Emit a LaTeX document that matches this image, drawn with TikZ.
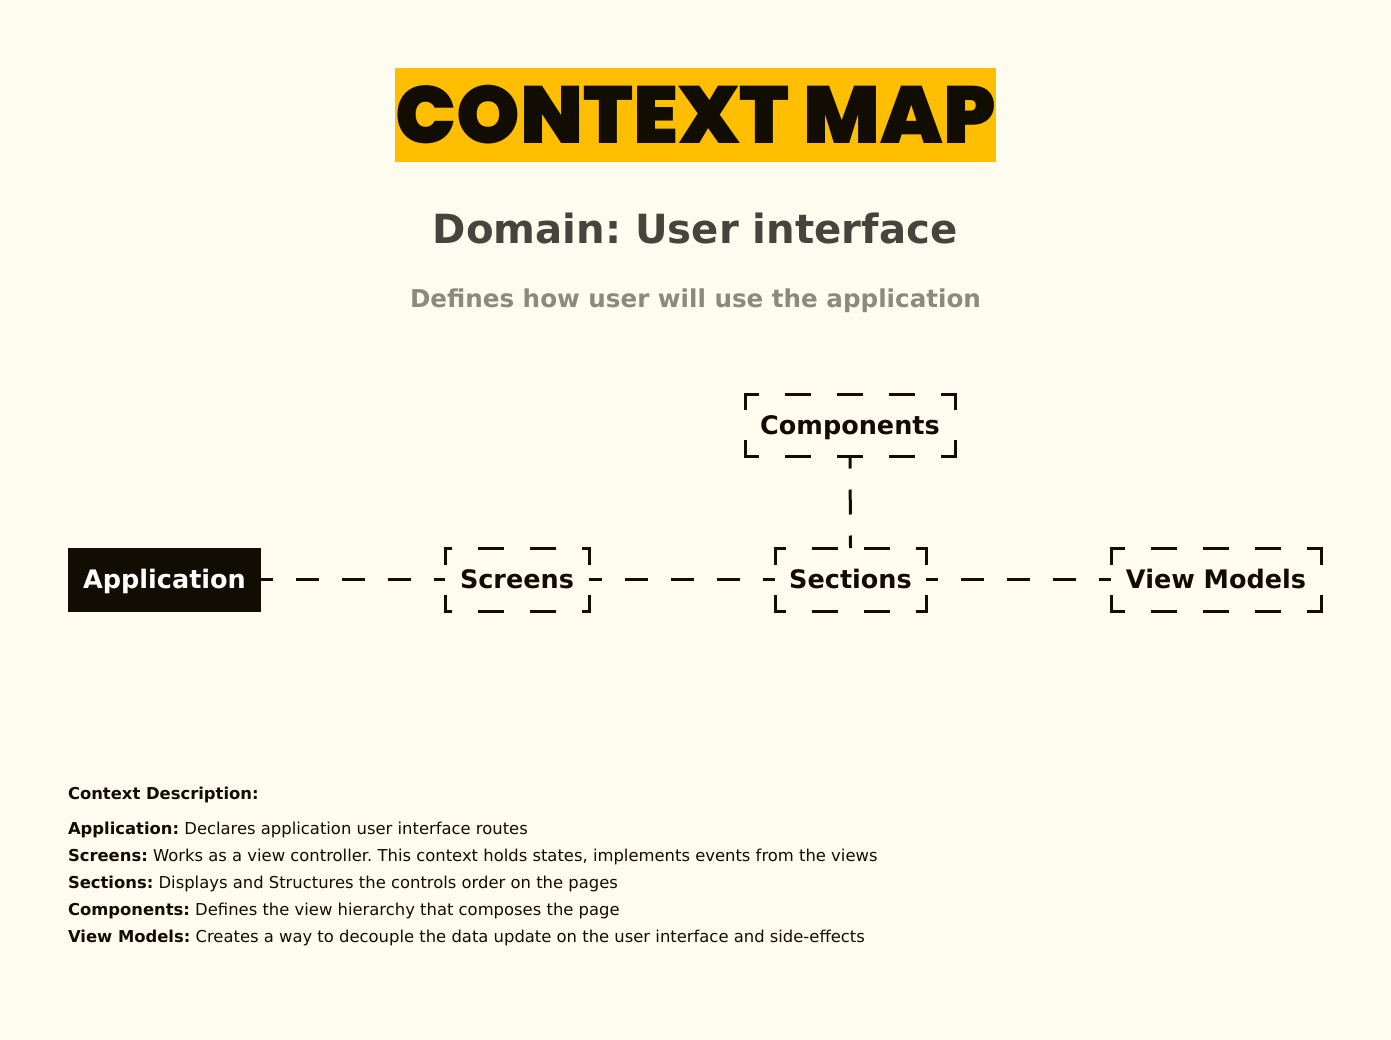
\documentclass[tikz,border=0pt]{standalone}
\usepackage{fontspec}
\setmainfont{DejaVu Sans}
\newfontfamily\titlefont{Poppins Black}
\frenchspacing
\definecolor{bgc}{HTML}{FEFCEF}
\definecolor{amber}{HTML}{FFBF00}
\definecolor{ink}{HTML}{110D02}
\definecolor{domgrey}{HTML}{47443D}
\definecolor{subgrey}{HTML}{8C897D}
\tikzset{
  lw/.style={line width=3pt, draw=ink},
  ctxbox/.style={inner sep=0pt, outer sep=0pt, font=\fontsize{25.5}{30}\selectfont\bfseries, text=ink,
                 text height=18.6pt, text depth=0pt},
  desc/.style={inner sep=0pt, outer sep=0pt, font=\fontsize{16.4}{20}\selectfont, text=ink, anchor=base west},
}
% dashed side with visible dash a, gap b, k inner dashes, symmetric corner pieces
\newcommand{\dside}[6]{%
  \pgfmathsetmacro\dsc{(#3-#6*#4-(#6+1)*#5)/2}%
  \pgfmathsetmacro\dsa{#4-3}%
  \pgfmathsetmacro\dsb{#5+3}%
  \pgfmathsetmacro\dsp{\dsa-(\dsc-1.5)}%
  \draw[lw, line cap=rect, dash pattern=on \dsa pt off \dsb pt, dash phase=\dsp pt] #1 -- #2;}
\newcommand{\dconn}[6]{%
  \pgfmathsetmacro\dsc{(#3-#6*#4-(#6+1)*#5)/2}%
  \pgfmathsetmacro\dsp{#4-\dsc}%
  \draw[lw, line cap=butt, dash pattern=on #4pt off #5pt, dash phase=\dsp pt] #1 -- #2;}
% box: name, width, height, k horizontal
\newcommand{\dbox}[4]{%
  \dside{(#1.north west)}{(#1.north east)}{#2}{26}{26}{#4}%
  \dside{(#1.south west)}{(#1.south east)}{#2}{26}{26}{#4}%
  \dside{(#1.north west)}{(#1.south west)}{#3}{26}{30}{0}%
  \dside{(#1.north east)}{(#1.south east)}{#3}{26}{30}{0}}
\begin{document}
\begin{tikzpicture}[x=1pt,y=-1pt]
\fill[bgc] (0,0) rectangle (1391,1040);
\useasboundingbox (0,0) rectangle (1391,1040);

\node[fill=amber, minimum width=599pt, minimum height=94pt, inner sep=0pt,
      font=\titlefont\fontsize{81}{90}\selectfont, text=ink] (title) at (695.5,115) {CONTEXT MAP};
\node[font=\fontsize{40.2}{48}\selectfont\bfseries, text=domgrey, inner sep=0pt, anchor=base] (dom) at (695,244) {Domain: User interface};
\node[font=\fontsize{24.6}{30}\selectfont\bfseries, text=subgrey, inner sep=0pt, anchor=base] (sub) at (695.5,308) {Defines how user will use the application};

\node[ctxbox, minimum width=210pt, minimum height=62pt] (comp) at (850,425) {Components};
\node[ctxbox, fill=ink, text=white, minimum width=193pt, minimum height=64pt] (app) at (164.5,579.5) {Application};
\node[ctxbox, minimum width=144pt, minimum height=63pt] (scr) at (517,579.5) {Screens};
\node[ctxbox, minimum width=151pt, minimum height=63pt] (sec) at (850.5,579.5) {Sections};
\node[ctxbox, minimum width=210pt, minimum height=63pt] (vm) at (1216,579.5) {View Models};

\dbox{comp}{210}{62}{3}
\dbox{scr}{144}{63}{2}
\dbox{sec}{151}{63}{2}
\dbox{vm}{210}{63}{3}

\dconn{(app.east)}{(scr.west)}{184}{23}{23}{3}
\dconn{(scr.east)}{(sec.west)}{186}{23}{23}{3}
\dconn{(sec.east)}{(vm.west)}{185}{23}{23}{3}
\dconn{(comp.south)}{(sec.north)}{92}{25}{21}{1}

\node[desc] (d0) at (68,799) {\textbf{Context Description:}};
\node[desc] (d1) at (68,834) {\textbf{Application:} Declares application user interface routes};
\node[desc] (d2) at (68,861) {\textbf{Screens:} Works as a view controller. This context holds states, implements events from the views};
\node[desc] (d3) at (68,888) {\textbf{Sections:} Displays and Structures the controls order on the pages};
\node[desc] (d4) at (68,915) {\textbf{Components:} Defines the view hierarchy that composes the page};
\node[desc] (d5) at (68,942) {\textbf{View Models:} Creates a way to decouple the data update on the user interface and side-effects};
\end{tikzpicture}
\end{document}
